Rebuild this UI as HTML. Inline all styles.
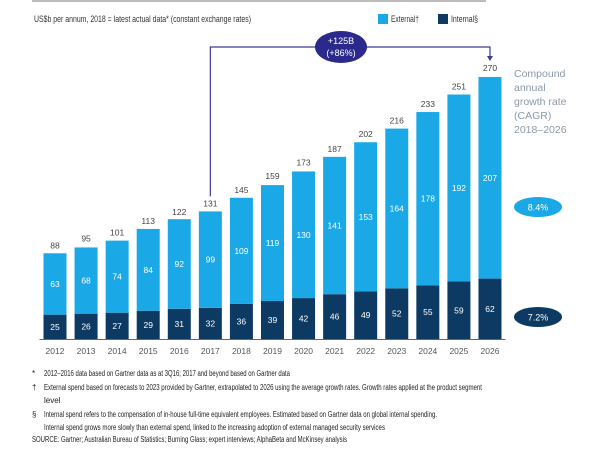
<!DOCTYPE html>
<html><head><meta charset="utf-8"><style>
body{margin:0;background:#fff;width:614px;height:444px;overflow:hidden;font-family:"Liberation Sans",sans-serif}
</style></head><body>
<svg width="614" height="444" id="svg" font-family="Liberation Sans, sans-serif">
<line x1="32" y1="1" x2="486" y2="1" stroke="#bbb" stroke-width="2"/>
<text x="34" y="22" font-size="9.5" fill="#333" textLength="217" lengthAdjust="spacingAndGlyphs">US$b per annum, 2018 = latest actual data* (constant exchange rates)</text>
<rect x="378" y="14" width="10" height="10" fill="#1aa8e6"/>
<text x="391" y="22" font-size="9" fill="#333" textLength="28" lengthAdjust="spacingAndGlyphs">External†</text>
<rect x="438" y="14" width="10" height="10" fill="#0c3a63"/>
<text x="451" y="22" font-size="9" fill="#333" textLength="27" lengthAdjust="spacingAndGlyphs">Internal§</text>
<g fill="#8a9aa8" font-size="10.5">
<text x="514" y="77">Compound</text><text x="514" y="91">annual</text><text x="514" y="105">growth rate</text><text x="514" y="119">(CAGR)</text><text x="514" y="133">2018–2026</text></g>
<ellipse cx="538" cy="207" rx="24" ry="10" fill="#1aa8e6"/>
<text x="538" y="210.5" font-size="9" fill="#fff" text-anchor="middle">8.4%</text>
<ellipse cx="538" cy="317" rx="24" ry="10" fill="#0c3a63"/>
<text x="538" y="320.5" font-size="9" fill="#fff" text-anchor="middle">7.2%</text>
<g id="bars"></g>
<g fill="#222" font-size="8">
<text x="32" y="376">*</text><text x="44" y="376" textLength="246" lengthAdjust="spacingAndGlyphs">2012–2016 data based on Gartner data as at 3Q16; 2017 and beyond based on Gartner data</text>
<text x="32" y="390">†</text><text x="44" y="390" textLength="438" lengthAdjust="spacingAndGlyphs">External spend based on forecasts to 2023 provided by Gartner, extrapolated to 2026 using the average growth rates. Growth rates applied at the product segment</text>
<text x="44" y="403">level</text>
<text x="32" y="417">§</text><text x="44" y="417" textLength="393" lengthAdjust="spacingAndGlyphs">Internal spend refers to the compensation of in-house full-time equivalent employees. Estimated based on Gartner data on global internal spending.</text>
<text x="44" y="430" textLength="341" lengthAdjust="spacingAndGlyphs">Internal spend grows more slowly than external spend, linked to the increasing adoption of external managed security services</text>
<text x="32" y="442" textLength="315" lengthAdjust="spacingAndGlyphs">SOURCE: Gartner; Australian Bureau of Statistics; Burning Glass; expert interviews; AlphaBeta and McKinsey analysis</text>
</g>
</svg>
<script>
const years=["2012","2013","2014","2015","2016","2017","2018","2019","2020","2021","2022","2023","2024","2025","2026"];
const external=[63,68,74,84,92,99,109,119,130,141,153,164,178,192,207];
const internal=[25,26,27,29,31,32,36,39,42,46,49,52,55,59,62];
const totals=[88,95,101,113,122,131,145,159,173,187,202,216,233,251,270];
const NS="http://www.w3.org/2000/svg";
const base=339,scale=263/270,x0=55,step=31.07,bw=23;
const xs=i=>x0+i*step, ys=v=>v*scale;
const g=document.getElementById('bars');
function mk(t,a,txt){const e=document.createElementNS(NS,t);for(const k in a)e.setAttribute(k,a[k]);if(txt!==undefined)e.textContent=txt;g.appendChild(e);return e;}
years.forEach((y,i)=>{
 const cx=xs(i),hi=ys(internal[i]),he=ys(external[i]);
 let e=mk('rect',{x:cx-bw/2,y:base-hi,width:bw,height:hi,fill:'#0c3a63'});
 
 
 e=mk('rect',{x:cx-bw/2,y:base-hi-he,width:bw,height:he,fill:'#1aa8e6'});
 
 
 e=mk('text',{x:cx,y:base-hi/2+3,'font-size':8.5,fill:'#fff','text-anchor':'middle'},internal[i]);
 
 
 e=mk('text',{x:cx,y:base-hi-he/2+3,'font-size':8.5,fill:'#fff','text-anchor':'middle'},external[i]);
 
 
 e=mk('text',{x:cx,y:base-ys(totals[i])-5,'font-size':8.5,fill:'#444','text-anchor':'middle'},totals[i]);
 
 
 e=mk('text',{x:cx,y:base+15,'font-size':8.5,fill:'#555','text-anchor':'middle'},y);
 
 
});
let ax=mk('line',{x1:xs(0)-bw/2-4,x2:xs(14)+bw/2+4,y1:base+0.5,y2:base+0.5,stroke:'#666','stroke-width':1});


const xa=xs(5),xb=xs(14),ya=base-ys(totals[5])-15,yb=base-ys(totals[14])-16,yt=47;
let br=mk('path',{d:`M${xa},${ya} V${yt} H${xb} V${yb}`,fill:'none',stroke:'#3b3a96','stroke-width':1.2});


let ar=mk('path',{d:`M${xb-3},${yb-4} L${xb+3},${yb-4} L${xb},${yb+1} Z`,fill:'#3b3a96'});


let el=mk('ellipse',{cx:341,cy:47,rx:26,ry:16,fill:'#2b2a8c'});


let t1=mk('text',{x:341,y:44,'font-size':9,fill:'#fff','text-anchor':'middle'},'+125B');


let t2=mk('text',{x:341,y:56,'font-size':9,fill:'#fff','text-anchor':'middle'},'(+86%)');


</script>
</body></html>
